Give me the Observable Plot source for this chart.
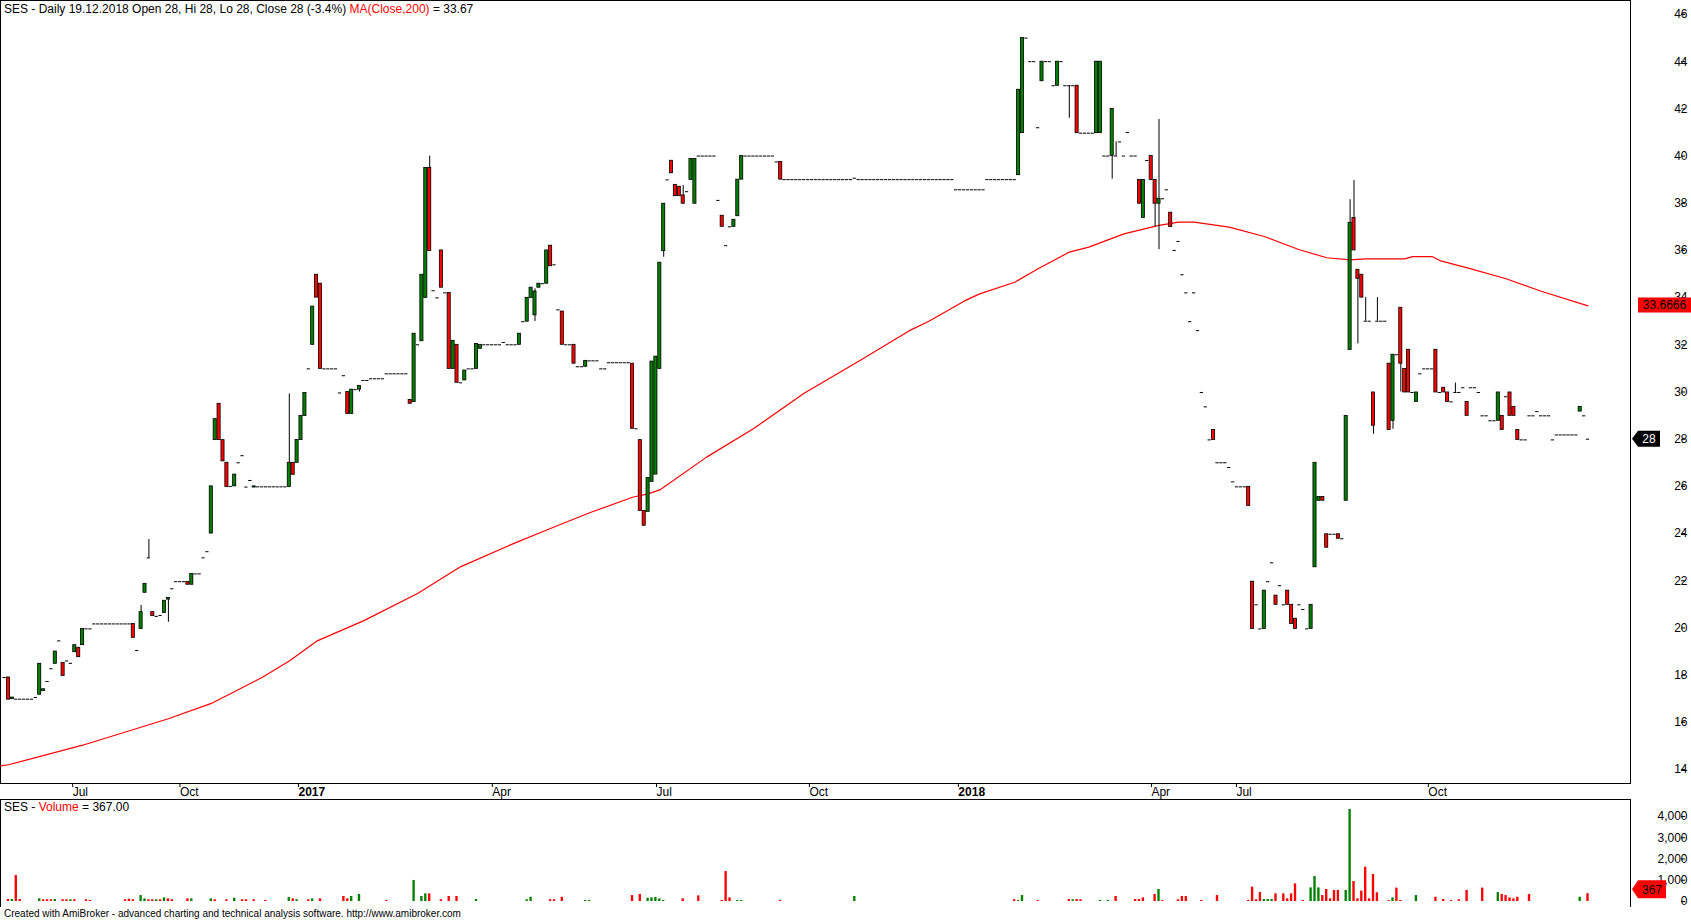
<!DOCTYPE html>
<html><head><meta charset="utf-8">
<script src="https://cdn.jsdelivr.net/npm/d3@7"></script>
<script src="https://cdn.jsdelivr.net/npm/@observablehq/plot@0.6"></script>
<style>
html,body{margin:0;padding:0;background:#fff;}
#wrap{position:relative;width:1691px;height:921px;overflow:hidden;font-family:"Liberation Sans",Arial,sans-serif;}
.lbl{position:absolute;left:4px;font-size:12px;line-height:14px;white-space:nowrap;color:#000;}
#price{position:absolute;left:0;top:0;}
#vol{position:absolute;left:0;top:799px;}
</style></head>
<body><div id="wrap"><div id="price"></div><div id="vol"></div>
<div class="lbl" id="hdr" style="top:2px"></div>
<div class="lbl" id="vlbl" style="top:800px"></div>
<div class="lbl" id="cap" style="top:908px;font-size:10px;line-height:12px"></div>
</div>
<script>
// ---------- texts ----------
const headerParts = [["SES - Daily 19.12.2018 Open 28, Hi 28, Lo 28, Close 28 (-3.4%) ", "#000"], ["MA(Close,200)", "#ff0000"], [" = 33.67", "#000"]];
const volLabelParts = [["SES - ", "#000"], ["Volume", "#ff0000"], [" = 367.00", "#000"]];
const caption = "Created with AmiBroker - advanced charting and technical analysis software. http://www.amibroker.com";

// ---------- x axis (bar number) ----------
const tickIdx = [16.2, 43.7, 74.1, 123.8, 165.9, 205.1, 243.3, 292.8, 314.6, 363.8];
const tickLabels = ["Jul", "Oct", "2017", "Apr", "Jul", "Oct", "2018", "Apr", "Jul", "Oct"];
const yearTicks = ["2017", "2018"];
const priceTicks = [14,16,18,20,22,24,26,28,30,32,34,36,38,40,42,44,46];
const volTicks = [0,1000,2000,3000,4000];

// ---------- candles: [bar, open, high, low, close] ----------
const candles = [
[0,17.9,17.9,16.96,16.96],[1,16.98,17.05,16.98,17.05],[8,17.17,18.48,17.17,18.48],[9,17.33,17.4,17.33,17.4],
[12,18.48,19.0,18.48,19.0],[14,18.52,18.52,17.96,17.96],[17,18.97,19.27,18.97,19.27],[18,19.16,19.16,18.76,18.76],
[19,19.27,19.96,19.27,19.96],[32,20.17,20.17,19.58,19.58],[34,19.96,20.95,19.96,20.67],[35,21.49,21.87,21.49,21.87],
[36,22.97,23.75,22.97,22.97],[37,20.67,20.67,20.5,20.5],[40,20.63,21.15,20.63,21.15],[41,21.2,21.27,20.24,21.27],
[46,21.95,21.95,21.83,21.83],[47,21.83,22.29,21.83,22.29],[52,24.0,26.0,24.0,26.0],[53,27.96,28.85,27.96,28.85],
[54,29.5,29.5,27.96,27.96],[55,27.96,27.96,27.06,27.06],[56,27.0,27.0,25.97,25.97],[58,26.0,26.5,26.0,26.5],
[63,25.95,26.0,25.95,26.0],[72,25.97,29.92,25.97,27.0],[73,27.0,27.0,26.49,26.49],[74,27.0,27.97,27.0,27.97],
[75,27.96,28.98,27.96,28.98],[76,28.98,29.96,28.98,29.96],[78,32.0,33.62,32.0,33.62],[79,34.97,34.97,34.0,34.0],
[80,34.59,34.59,30.98,30.98],[87,30.0,30.0,29.07,29.07],[88,29.07,30.1,29.07,30.1],[90,30.1,30.26,30.0,30.26],
[103,29.66,29.66,29.5,29.5],[104,29.57,32.47,29.57,32.47],[106,32.15,34.97,32.15,34.97],[107,33.99,39.5,33.99,39.5],
[108,39.5,40.0,35.97,35.97],[111,36.0,36.0,34.42,34.42],[113,34.2,34.2,30.98,30.98],[114,30.98,32.17,30.98,32.17],
[115,32.0,32.0,30.39,30.39],[117,30.49,30.91,30.49,30.91],[120,30.98,32.04,30.98,32.04],[121,31.83,32.0,31.83,32.0],
[131,32.0,32.47,32.0,32.47],[133,32.98,33.99,32.98,33.99],[134,33.99,34.42,33.99,34.42],[135,33.25,34.37,32.99,34.26],
[136,34.42,34.59,34.42,34.59],[138,34.59,36.0,34.59,36.0],[139,36.2,36.2,35.33,35.33],[142,33.41,33.41,32.0,32.0],
[145,32.0,32.0,31.2,31.2],[148,31.07,31.32,31.07,31.32],[160,31.2,31.2,28.44,28.44],[162,27.96,27.96,24.96,24.96],
[163,24.96,24.96,24.33,24.33],[164,24.92,26.36,24.92,26.36],[165,26.19,31.29,26.19,31.29],[166,26.5,31.5,26.5,31.5],
[167,30.98,35.48,30.98,35.48],[168,35.97,37.98,35.71,37.98],[170,39.8,39.8,39.27,39.27],[171,38.78,38.78,38.3,38.3],
[172,38.7,38.7,38.3,38.3],[173,38.33,38.75,37.98,37.98],[175,38.99,39.88,38.99,39.88],[176,37.98,39.88,37.98,39.88],
[183,37.47,37.47,37.0,37.0],[186,37.0,37.3,37.0,37.3],[187,37.45,39.0,37.45,39.0],[188,39.0,40.0,39.0,40.0],
[198,39.75,39.75,39.0,39.0],[259,39.19,42.81,39.19,42.81],[260,40.97,45.0,40.97,45.0],[265,43.17,44.0,43.17,44.0],
[269,42.98,44.0,42.98,44.0],[272,42.98,42.98,41.6,42.98],[274,42.98,42.98,40.97,40.97],[279,40.97,44.0,40.97,44.0],
[280,40.97,44.0,40.97,44.0],[283,40.0,42.0,39.02,42.0],[284,40.0,40.6,40.0,40.0],[290,38.99,38.99,37.98,37.98],
[291,37.38,38.99,37.38,38.99],[293,40.0,40.0,38.99,38.99],[294,38.99,38.99,37.01,37.98],[295,37.98,41.55,36.03,38.19],
[298,37.6,37.6,36.99,36.99],[309,28.39,28.39,27.97,27.97],[318,25.98,25.98,25.17,25.17],[319,21.96,21.96,19.96,19.96],
[322,19.96,21.58,19.96,21.58],[325,21.37,21.37,20.98,20.98],[328,21.58,21.58,20.98,20.98],[329,20.98,20.98,20.17,20.17],
[330,20.39,20.39,19.96,19.96],[334,19.96,20.98,19.96,20.98],[335,22.57,27.0,22.57,27.0],[336,25.39,25.55,25.39,25.55],
[337,25.55,25.55,25.39,25.39],[338,23.97,23.97,23.4,23.4],[341,23.97,23.97,23.78,23.78],[343,25.39,28.98,25.39,28.98],
[344,31.78,38.15,31.78,37.17],[345,37.38,38.96,36.0,36.0],[346,35.18,35.18,32.04,34.8],[347,34.97,34.97,34.0,34.0],
[348,33.0,34.0,33.0,33.0],[350,29.98,29.98,28.21,28.57],[351,33.0,34.0,33.0,33.0],[354,31.2,31.2,28.39,28.39],
[355,28.78,31.58,28.42,31.58],[357,33.57,33.57,30.0,31.2],[358,30.98,30.98,29.98,29.98],[359,31.79,31.79,29.98,29.98],
[361,29.58,29.98,29.58,29.98],[366,31.79,31.79,29.98,29.98],[368,30.18,30.18,29.98,29.98],[369,29.98,29.98,29.58,29.58],
[371,29.98,30.38,29.98,29.98],[374,29.58,29.58,28.99,28.99],[382,28.78,29.98,28.78,29.98],[383,28.99,28.99,28.39,28.39],
[385,29.98,29.98,28.99,28.99],[386,29.37,29.37,28.99,28.99],[387,28.39,28.39,27.97,27.97],[403,29.17,29.37,29.17,29.37]
];

// ---------- bars with open = high = low = close: [firstBar, lastBar, price] ----------
const flatRuns = [
[-1,-1,17.9],[2,6,16.98],[7,7,17.05],[10,10,17.73],[11,11,18.27],[13,13,19.45],[15,15,18.6],[16,16,18.5],
[20,21,19.96],[22,31,20.17],[33,33,19.04],[38,38,20.49],[39,39,20.53],[42,42,21.66],[43,45,21.96],[48,49,22.29],
[50,50,22.97],[51,51,23.23],[57,57,26.0],[59,59,27.0],[60,60,27.3],[61,61,25.97],[62,62,26.25],[64,71,25.98],
[77,77,30.98],[81,84,30.98],[85,85,29.96],[86,86,30.69],[89,89,30.1],[91,92,30.49],[93,96,30.56],[97,102,30.77],
[105,105,32.0],[109,109,34.29],[110,110,33.99],[112,112,34.2],[116,116,30.39],[118,119,30.98],[122,126,32.0],
[127,127,32.1],[128,130,32.0],[132,132,32.98],[137,137,34.59],[140,140,35.39],[141,141,33.48],[143,144,32.0],
[146,147,31.07],[149,151,31.32],[152,153,30.98],[154,159,31.24],[161,161,28.44],[169,169,38.99],[174,174,38.49],
[177,181,40.0],[182,182,38.12],[184,184,36.2],[185,185,37.0],[189,196,40.0],[197,197,39.75],[199,216,39.0],
[217,217,39.06],[218,242,39.0],[243,250,38.57],[251,258,39.0],[261,261,45.0],[262,263,44.0],[264,264,41.2],
[266,267,44.0],[268,268,42.98],[270,270,44.0],[271,271,42.98],[273,273,42.98],[275,278,40.97],[281,282,40.0],
[285,285,40.6],[286,286,40.0],[287,287,41.0],[288,289,40.0],[292,292,39.81],[296,296,38.19],[297,297,38.57],
[299,299,36.0],[300,300,36.38],[301,301,34.97],[302,302,34.2],[303,303,32.98],[304,304,34.2],[305,305,32.6],
[306,306,29.98],[307,307,29.37],[308,308,27.97],[310,312,27.0],[313,313,26.8],[314,314,26.19],[315,317,25.98],
[320,320,20.98],[321,321,19.96],[323,323,21.96],[324,324,22.76],[326,326,21.79],[327,327,20.98],[331,331,20.98],
[332,332,20.78],[333,333,19.96],[339,340,23.97],[342,342,23.78],[349,349,33.0],[352,353,33.0],[356,356,31.58],
[360,360,29.98],[362,362,30.77],[363,365,30.98],[367,367,29.98],[370,370,29.58],[372,372,29.98],[373,373,30.18],
[375,376,30.18],[377,377,29.98],[378,379,28.99],[380,381,28.78],[384,384,29.8],[388,389,27.97],[390,391,28.99],
[392,392,29.17],[393,395,28.99],[396,396,27.97],[397,402,28.18],[404,404,28.99],[405,405,28.0]
];

// ---------- MA(Close,200): [bar, value] ----------
const maPoints = [
[-2,14.15],[0,14.2],[19,15.03],[41,16.15],[52,16.8],[65,17.9],[72,18.6],[79,19.44],[91,20.3],[105,21.47],
[116,22.6],[129,23.54],[138,24.15],[149,24.88],[160,25.54],[164,25.68],[167,25.85],[179,27.24],[191,28.44],
[204,29.95],[218,31.3],[231,32.6],[236,33.0],[245,33.85],[249,34.16],[258,34.65],[264,35.22],[272,35.93],
[277,36.14],[286,36.7],[295,37.06],[300,37.2],[304,37.2],[313,36.99],[322,36.59],[331,36.03],[338,35.69],
[344,35.6],[348,35.64],[358,35.64],[360,35.74],[365,35.74],[367,35.57],[375,35.22],[384,34.8],[393,34.27],[405,33.65]
];

// ---------- volume: [bar, volume, up(1)/down(0)] ----------
const volumes = [
[0,95,0],[1,95,1],[2,1220,0],[3,95,0],[8,125,1],[9,80,0],[10,80,0],[11,80,0],[12,95,1],[14,80,0],[15,80,0],[16,80,1],
[17,80,0],[20,80,0],[21,50,0],[30,80,0],[31,110,0],[32,80,0],[34,280,1],[35,125,1],[36,80,0],[37,80,0],[38,80,1],
[39,80,0],[40,170,1],[41,125,0],[42,80,0],[46,125,0],[47,125,1],[52,125,1],[53,80,0],[56,80,0],[58,155,1],[60,80,0],
[61,80,0],[63,80,0],[66,50,0],[72,190,1],[73,125,0],[74,80,1],[77,80,0],[78,125,1],[80,125,0],[86,235,0],[87,125,0],
[88,235,1],[90,330,1],[97,50,0],[104,990,1],[106,235,1],[107,360,1],[108,360,0],[111,80,0],[113,235,0],[115,235,0],
[120,95,1],[133,80,1],[134,200,1],[139,80,0],[140,80,0],[142,200,0],[148,50,1],[149,50,1],[160,280,0],[162,330,0],
[164,155,1],[165,170,1],[166,190,1],[167,125,1],[168,50,1],[173,125,0],[177,265,0],[183,50,0],[184,1410,0],[185,170,0],
[187,50,1],[188,50,1],[198,50,0],[217,235,1],[258,80,0],[259,50,1],[260,280,1],[264,50,0],[272,95,0],[273,80,1],
[274,95,0],[275,80,0],[280,50,1],[282,50,1],[284,235,0],[289,95,0],[290,95,0],[291,170,0],[294,330,0],[295,565,1],
[296,50,0],[300,80,0],[301,235,0],[302,235,0],[306,50,0],[310,280,0],[318,50,0],[319,675,0],[320,80,0],[321,420,0],
[322,95,1],[323,95,1],[324,95,1],[325,360,0],[327,360,0],[328,125,0],[329,360,0],[330,830,0],[332,50,0],[334,640,1],
[335,1175,1],[336,640,1],[337,280,0],[338,565,0],[339,125,0],[340,520,0],[341,520,0],[343,520,1],[344,4330,1],
[345,940,0],[346,125,0],[347,490,0],[348,1615,0],[349,125,0],[350,1270,0],[351,410,0],[354,50,0],[355,170,1],
[356,630,0],[357,50,0],[361,280,1],[366,200,0],[368,95,0],[370,50,0],[372,80,0],[374,520,0],[378,630,0],[382,420,1],
[383,330,0],[384,280,0],[385,170,0],[386,125,0],[387,200,0],[390,330,0],[403,200,1],[405,367,0]
];

const lastClose = 28;
const lastMA = 33.6666;
const lastVolume = 367;

// ---------- build ----------
const GREEN = "#008000", RED = "#ff0000";
const FONT = '"Liberation Sans", Arial, sans-serif';
const bars = candles.map(([n,o,h,l,c]) => ({n,o,h,l,c}));
const flats = [];
for (const [a,b,p] of flatRuns) for (let n = a; n <= b; n++) flats.push({n, p});
for (const d of bars) if (d.o === d.c) flats.push({n: d.n, p: d.c});
const bodies = bars.filter(d => d.o !== d.c);
const X_DOMAIN = [-8/3.9, 1622/3.9];

function fillParts(el, parts) {
  for (const [t, col] of parts) { const s = document.createElement("span"); s.textContent = t; s.style.color = col; el.appendChild(s); }
}
fillParts(document.getElementById("hdr"), headerParts);
fillParts(document.getElementById("vlbl"), volLabelParts);
document.getElementById("cap").textContent = caption;

function tag(value, text, fill, textColor, arrow, width, h, shift = 0) {
  return (index, scales, values, dim) => {
    const y = scales.y(value) + shift;
    const x0 = dim.width - dim.marginRight;
    const g = d3.create("svg:g");
    let left, right = x0 + width;
    if (arrow) {
      left = x0 + 2;
      g.append("path").attr("fill", fill)
        .attr("d", `M${left},${y} L${left+6},${y-h/2} L${right},${y-h/2} L${right},${y+h/2} L${left+6},${y+h/2} Z`);
    } else {
      left = x0 + 8;
      g.append("rect").attr("fill", fill).attr("x", left).attr("y", y - h/2).attr("width", right - left).attr("height", h);
    }
    g.append("text").attr("x", (left + (arrow ? 6 : 0) + right) / 2).attr("y", y).attr("dy", "0.36em")
      .attr("text-anchor", "middle").attr("fill", textColor).attr("font-size", 12).attr("font-family", FONT).text(text);
    return g.node();
  };
}

const price = Plot.plot({
  width: 1691, height: 799,
  marginLeft: 0, marginRight: 61, marginTop: 0, marginBottom: 16,
  x: {domain: X_DOMAIN, label: null},
  y: {domain: [14 - 14/23.594, 46 + 14/23.594], label: null},
  style: {background: "white", fontFamily: FONT, fontSize: "12px", color: "black", overflow: "visible"},
  marks: [
    Plot.frame({stroke: "black", strokeWidth: 1}),
    Plot.line(maPoints, {x: d => d[0], y: d => d[1], stroke: RED, strokeWidth: 1.2}),
    Plot.ruleX(bars.filter(d => d.h > d.l), {x: "n", y1: "l", y2: "h", stroke: "black", strokeWidth: 1}),
    Plot.rect(bodies, {x1: d => d.n - 0.4, x2: d => d.n + 0.4, y1: "o", y2: "c",
      fill: d => d.c > d.o ? GREEN : RED, stroke: "black", strokeWidth: 0.8}),
    Plot.ruleY(flats, {y: "p", x1: d => d.n - 0.42, x2: d => d.n + 0.42, stroke: "black", strokeWidth: 1}),
    Plot.axisY({anchor: "right", label: null, ticks: priceTicks, tickSize: 4, tickPadding: 3, textAnchor: "end", dx: 50, fontSize: 12}),
    Plot.axisX({anchor: "bottom", label: null, ticks: tickIdx.filter((t, i) => !yearTicks.includes(tickLabels[i])),
      tickFormat: d => tickLabels[tickIdx.indexOf(d)], tickSize: 4, tickPadding: 0, textAnchor: "start", dx: 1, fontSize: 12}),
    Plot.axisX({anchor: "bottom", label: null, ticks: tickIdx.filter((t, i) => yearTicks.includes(tickLabels[i])),
      tickFormat: d => tickLabels[tickIdx.indexOf(d)], tickSize: 4, tickPadding: 0, textAnchor: "start", dx: 1, fontSize: 12, fontWeight: "bold"}),
    tag(lastMA, String(lastMA), RED, "black", false, 61, 15),
    tag(lastClose, String(lastClose), "black", "white", true, 30, 16)
  ]
});
document.getElementById("price").appendChild(price);

const vol = Plot.plot({
  width: 1691, height: 108,
  marginLeft: 0, marginRight: 61, marginTop: 0, marginBottom: 0,
  x: {domain: X_DOMAIN, axis: null},
  y: {domain: [-282.4, 4800], label: null},
  style: {background: "white", fontFamily: FONT, fontSize: "12px", color: "black", overflow: "visible"},
  marks: [
    (index, scales, values, dim) => {
      const g = d3.create("svg:g").attr("stroke", "black").attr("shape-rendering", "crispEdges");
      const r = dim.width - dim.marginRight;
      g.append("line").attr("x1", 0.5).attr("x2", 0.5).attr("y1", 0).attr("y2", dim.height);
      g.append("line").attr("x1", r + 0.5).attr("x2", r + 0.5).attr("y1", 0).attr("y2", dim.height);
      g.append("line").attr("x1", 0).attr("x2", r).attr("y1", 0.5).attr("y2", 0.5);
      return g.node();
    },
    Plot.rect(volumes, {x1: d => d[0] - 0.3, x2: d => d[0] + 0.3, y1: 0, y2: d => d[1], fill: d => d[2] ? GREEN : RED}),
    Plot.axisY({anchor: "right", label: null, ticks: volTicks, tickSize: 4, tickPadding: 3, textAnchor: "end", dx: 50, fontSize: 12}),
    tag(lastVolume, String(lastVolume), RED, "black", true, 36, 18, -4)
  ]
});
document.getElementById("vol").appendChild(vol);
</script>
</body></html>
